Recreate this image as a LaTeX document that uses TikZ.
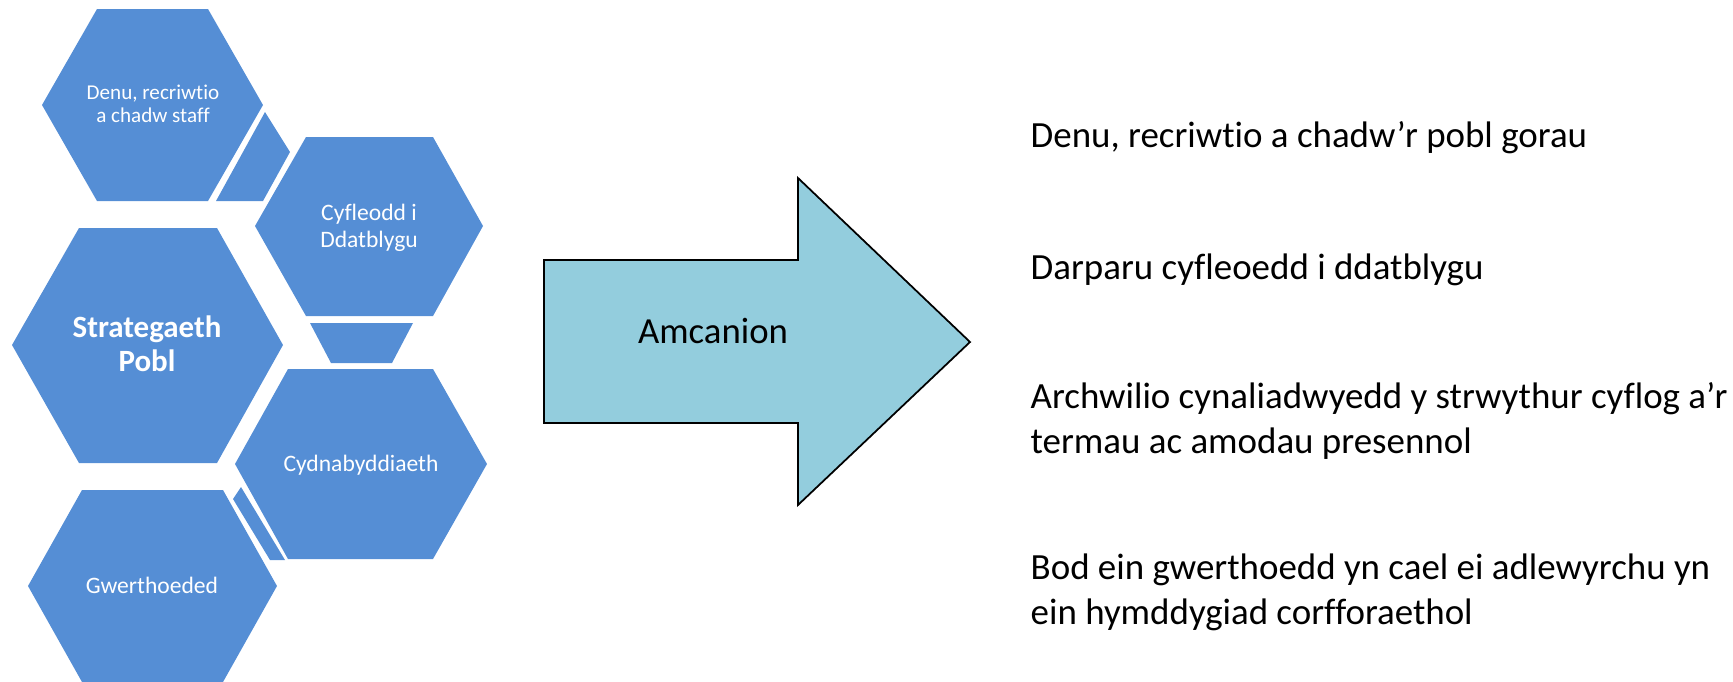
\documentclass[tikz,border=0pt]{standalone}
\usepackage{fontspec}
\setmainfont{Carlito}[Ligatures={NoCommon}]
\definecolor{hexblue}{RGB}{85,142,213}
\definecolor{arrowblue}{RGB}{147,205,221}

\begin{document}
\begin{tikzpicture}[x=0.01cm, y=-0.01cm,
    hexa/.style={fill=hexblue},
    hexlabel/.style={text=white, align=center, inner sep=0pt},
    goal/.style={anchor=base west, align=left, inner sep=0pt, font=\fontsize{10.5}{12.8}\selectfont}]
    \useasboundingbox (0,0) rectangle (1733,681);

    % Hexagons:
    \fill[hexa] (42,105) -- (97,9) -- (208,9) -- (263,105) -- (208,201) -- (97,201) -- cycle;
    \fill[hexa] (255,226) -- (306,137) -- (433,137) -- (483,226) -- (433,316) -- (306,316) -- cycle;
    \fill[hexa] (12,345) -- (79,228) -- (217,228) -- (283,345) -- (217,463) -- (79,463) -- cycle;
    \fill[hexa] (235,464) -- (288,369) -- (433,369) -- (487,464) -- (433,559) -- (288,559) -- cycle;
    \fill[hexa] (28,586) -- (82,490) -- (223,490) -- (277,586) -- (223,682) -- (82,682) -- cycle;

    % Pieces in the gaps:
    \fill[hexa] (265,112) -- (290,152) -- (263,201) -- (216,201) -- cycle;
    \fill[hexa] (310,323) -- (413,323) -- (392,363) -- (331,363) -- cycle;
    \fill[hexa] (241,487) -- (233,499) -- (270,560) -- (285,560) -- cycle;

    % Hexagon labels:
    \node[hexlabel, font=\fontsize{6}{6.5}\selectfont] (staff) at (153,104) {Denu, recriwtio\\a chadw staff};
    \node[hexlabel, font=\fontsize{6.7}{7.7}\selectfont] (develop) at (369,228) {Cyfleodd i\\Ddatblygu};
    \node[hexlabel, font=\fontsize{8.8}{9.8}\selectfont\bfseries] (strategy) at (147,344) {Strategaeth\\Pobl};
    \node[hexlabel, font=\fontsize{6.7}{7.7}\selectfont] (reward) at (361,465) {Cydnabyddiaeth};
    \node[hexlabel, font=\fontsize{6.7}{7.7}\selectfont] (values) at (152,585) {Gwerthoeded};

    % Arrow:
    \draw[fill=arrowblue, line width=0.5pt] (544,260) -- (798,260) -- (798,178) -- (970,342)
        -- (798,505) -- (798,423) -- (544,423) -- cycle;
    \node[anchor=base, inner sep=0pt, font=\fontsize{10.45}{12}\selectfont] (aims) at (713,343) {Amcanion};

    % Aims (two-line nodes sit on their last line):
    \node[goal] (aim1) at (1030,147) {Denu, recriwtio a chadw’r pobl gorau};
    \node[goal] (aim2) at (1030,279) {Darparu cyfleoedd i ddatblygu};
    \node[goal] (aim3) at (1030,453) {Archwilio cynaliadwyedd y strwythur cyflog a’r\\termau ac amodau presennol};
    \node[goal] (aim4) at (1030,624) {Bod ein gwerthoedd yn cael ei adlewyrchu yn\\ein hymddygiad corfforaethol};
\end{tikzpicture}
\end{document}
